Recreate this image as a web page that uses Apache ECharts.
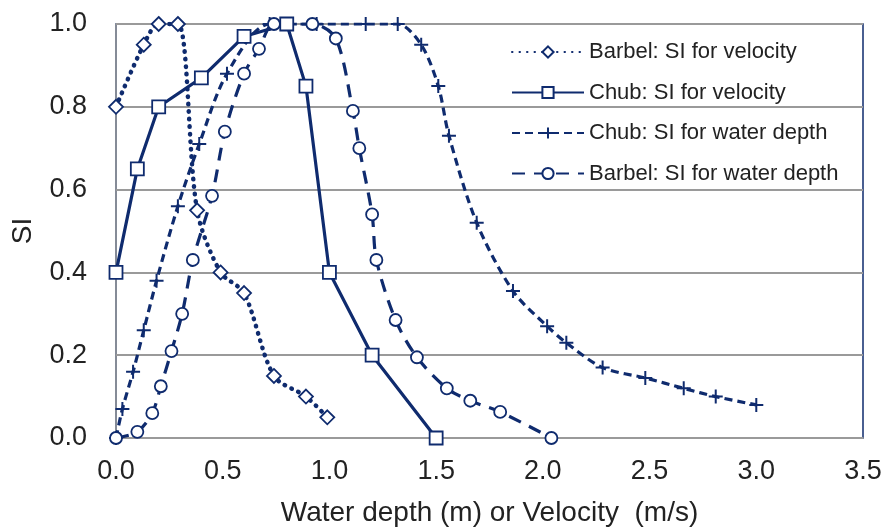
<!DOCTYPE html>
<html>
<head>
<meta charset="utf-8">
<script src="https://cdn.jsdelivr.net/npm/echarts@6/dist/echarts.min.js"></script>
<style>
  html, body { margin: 0; padding: 0; background: #fff; }
  #content { width: 885px; height: 532px; }
</style>
</head>
<body>
<div id="content"></div>
<script>
var seriesNames = [
    'Barbel: SI for velocity',
    'Chub: SI for velocity',
    'Chub: SI for water depth',
    'Barbel: SI for water depth'
];

// [x (m or m/s), SI]
var barbelVelocity = [
    [0, 0.8], [0.13, 0.95], [0.2, 1.0], [0.29, 1.0], [0.38, 0.55],
    [0.49, 0.4], [0.6, 0.35], [0.74, 0.15], [0.89, 0.1], [0.99, 0.05]
];
var chubVelocity = [
    [0, 0.4], [0.1, 0.65], [0.2, 0.8], [0.4, 0.87], [0.6, 0.97],
    [0.8, 1.0], [0.89, 0.85], [1.0, 0.4], [1.2, 0.2], [1.5, 0]
];
var chubDepth = [
    [0, 0], [0.03, 0.07], [0.08, 0.16], [0.13, 0.26], [0.19, 0.38],
    [0.29, 0.56], [0.39, 0.71], [0.52, 0.88], [0.72, 1.0], [0.94, 1.0],
    [1.17, 1.0], [1.32, 1.0], [1.43, 0.95], [1.51, 0.85], [1.56, 0.73],
    [1.69, 0.52], [1.86, 0.355], [2.02, 0.27], [2.11, 0.23], [2.28, 0.17],
    [2.48, 0.145], [2.66, 0.12], [2.81, 0.1], [3.0, 0.08]
];
var barbelDepth = [
    [0, 0], [0.1, 0.015], [0.17, 0.06], [0.21, 0.125], [0.26, 0.21],
    [0.31, 0.3], [0.36, 0.43], [0.45, 0.585], [0.51, 0.74], [0.6, 0.88],
    [0.67, 0.94], [0.74, 1.0], [0.92, 1.0], [1.03, 0.965], [1.11, 0.79],
    [1.14, 0.7], [1.2, 0.54], [1.22, 0.43], [1.31, 0.285], [1.41, 0.195],
    [1.55, 0.12], [1.66, 0.09], [1.8, 0.063], [2.04, 0.0]
];

var navy = '#0f2b6e';
var gridGray = '#9a9a9a';
var font = 'Liberation Sans, Arial, sans-serif';

var myChart = echarts.init(document.getElementById('content'));

var hollow = {
    color: '#fff',
    borderColor: navy,
    borderWidth: 1.8
};

option = {
    animation: false,
    backgroundColor: '#fff',
    grid: {
        left: 116,
        right: 22,
        top: 24,
        bottom: 91,
        show: true,
        borderColor: navy,
        borderWidth: 1.5,
        backgroundColor: 'transparent'
    },
    legend: {
        orient: 'vertical',
        left: 506,
        top: 36,
        itemWidth: 72,
        itemHeight: 14,
        itemGap: 18.5,
        textStyle: {fontFamily: font, fontSize: 22, color: '#222'},
        data: seriesNames
    },
    xAxis: {
        type: 'value',
        min: 0,
        max: 3.5,
        interval: 0.5,
        name: 'Water depth (m) or Velocity  (m/s)',
        nameLocation: 'middle',
        nameGap: 61,
        nameTextStyle: {fontFamily: font, fontSize: 28, color: '#222'},
        axisLine: {show: true, lineStyle: {color: gridGray, width: 1.5}},
        axisTick: {show: false},
        splitLine: {show: false},
        axisLabel: {
            fontFamily: font, fontSize: 27, color: '#222', margin: 20,
            formatter: function (v) { return v.toFixed(1); }
        }
    },
    yAxis: {
        type: 'value',
        min: 0,
        max: 1,
        interval: 0.2,
        name: 'SI',
        nameLocation: 'middle',
        nameGap: 79,
        nameTextStyle: {fontFamily: font, fontSize: 28, color: '#222'},
        axisLine: {show: true, lineStyle: {color: gridGray, width: 1.5}},
        axisTick: {show: false},
        splitLine: {show: true, lineStyle: {color: gridGray, width: 1.8}},
        axisLabel: {
            fontFamily: font, fontSize: 27, color: '#222', margin: 29,
            formatter: function (v) { return v.toFixed(1); }
        }
    },
    series: [
        {
            name: seriesNames[0],
            type: 'line',
            data: barbelVelocity,
            smooth: 0.3,
            symbol: 'diamond',
            symbolSize: 14,
            lineStyle: {color: navy, width: 4.5, type: [0.5, 7], cap: 'round'},
            itemStyle: hollow
        },
        {
            name: seriesNames[1],
            type: 'line',
            data: chubVelocity,
            symbol: 'rect',
            symbolSize: 13,
            lineStyle: {color: navy, width: 3.2},
            itemStyle: hollow
        },
        {
            name: seriesNames[2],
            type: 'line',
            data: chubDepth,
            smooth: 0.3,
            symbol: 'path://M0,5L10,5M5,0L5,10',
            symbolSize: 14,
            lineStyle: {color: navy, width: 3.2, type: [8, 5]},
            itemStyle: {color: navy, borderColor: navy, borderWidth: 2}
        },
        {
            name: seriesNames[3],
            type: 'line',
            data: barbelDepth,
            smooth: 0.3,
            symbol: 'circle',
            symbolSize: 12,
            lineStyle: {color: navy, width: 3.2, type: [13, 9]},
            itemStyle: hollow
        }
    ]
};
myChart.setOption(option);
</script>
</body>
</html>
